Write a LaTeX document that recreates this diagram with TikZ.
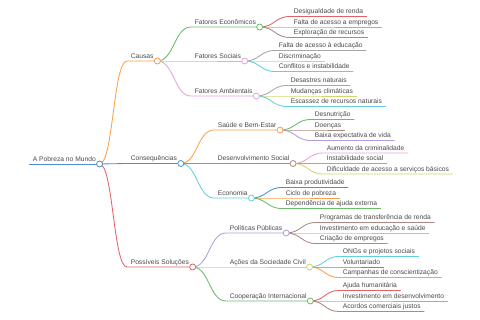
\documentclass[tikz,border=0pt]{standalone}
\usepackage{fontspec}
\setmainfont{Liberation Sans}
\usetikzlibrary{calc}
\definecolor{txt}{HTML}{4A4A4A}
\definecolor{cBlue}{HTML}{4A90CC}
\definecolor{cOrange}{HTML}{F9A04A}
\definecolor{cGreen}{HTML}{6ABC6A}
\definecolor{cRed}{HTML}{E06465}
\definecolor{cPurple}{HTML}{B39DDB}
\definecolor{cBrown}{HTML}{AC8A84}
\definecolor{cPink}{HTML}{EBA3D6}
\definecolor{cGray}{HTML}{A8A8A8}
\definecolor{cOlive}{HTML}{D3D46E}
\definecolor{cCyan}{HTML}{62D0DE}
\tikzset{
  lbl/.style={anchor=south west, inner xsep=3.6pt, inner ysep=1pt, text depth=1.6pt, text height=5pt,
    font=\fontsize{6.7}{7}\selectfont, text=txt},
  dot/.style={circle, draw=#1, fill=white, line width=0.8pt, minimum size=6pt, inner sep=0pt},
  lnk/.style={line width=0.85pt, draw=#1},
}
\newcommand\mmlink[3]{%
  \draw[lnk=#1] let \p1=(#2), \p2=(#3.south west) in
    (\p1) .. controls ({(\x1+\x2)/2},\y1) and ({(\x1+\x2)/2},\y2) .. (\p2) -- (#3.south east);}
\begin{document}
\begin{tikzpicture}[x=1pt,y=-1pt]
\useasboundingbox[fill=white] (0,0) rectangle (480,320);
% root and level 1
\node[lbl] (root) at (29,164) {A Pobreza no Mundo};
\node[lbl] (causas) at (127,61) {Causas};
\node[lbl] (cons) at (127,163.5) {Consequências};
\node[lbl] (sol) at (127,267) {Possíveis Soluções};
% level 2
\node[lbl] (econ) at (191,27) {Fatores Econômicos};
\node[lbl] (soc) at (191,61) {Fatores Sociais};
\node[lbl] (amb) at (191,96) {Fatores Ambientais};
\node[lbl] (saude) at (214,130) {Saúde e Bem-Estar};
\node[lbl] (desenv) at (214,163.5) {Desenvolvimento Social};
\node[lbl] (econo) at (214,198) {Economia};
\node[lbl] (polit) at (226,233) {Políticas Públicas};
\node[lbl] (acoes) at (226,267) {Ações da Sociedade Civil};
\node[lbl] (coop) at (226,301) {Cooperação Internacional};
% level 3
\node[lbl] (e1) at (290,16.5) {Desigualdade de renda};
\node[lbl] (e2) at (290,27) {Falta de acesso a empregos};
\node[lbl] (e3) at (290,37.5) {Exploração de recursos};
\node[lbl] (s1) at (275,50.5) {Falta de acesso à educação};
\node[lbl] (s2) at (275,61) {Discriminação};
\node[lbl] (s3) at (275,71.5) {Conflitos e instabilidade};
\node[lbl] (a1) at (287,85.5) {Desastres naturais};
\node[lbl] (a2) at (287,96) {Mudanças climáticas};
\node[lbl] (a3) at (287,106.5) {Escassez de recursos naturais};
\node[lbl] (h1) at (311,119.5) {Desnutrição};
\node[lbl] (h2) at (311,130) {Doenças};
\node[lbl] (h3) at (311,140.5) {Baixa expectativa de vida};
\node[lbl] (d1) at (323,153) {Aumento da criminalidade};
\node[lbl] (d2) at (323,163.5) {Instabilidade social};
\node[lbl] (d3) at (323,174) {Dificuldade de acesso a serviços básicos};
\node[lbl] (c1) at (282,187.5) {Baixa produtividade};
\node[lbl] (c2) at (282,198) {Ciclo de pobreza};
\node[lbl] (c3) at (282,208.5) {Dependência de ajuda externa};
\node[lbl] (p1) at (316,222.5) {Programas de transferência de renda};
\node[lbl] (p2) at (316,233) {Investimento em educação e saúde};
\node[lbl] (p3) at (316,243.5) {Criação de empregos};
\node[lbl] (o1) at (339,256.5) {ONGs e projetos sociais};
\node[lbl] (o2) at (339,267) {Voluntariado};
\node[lbl] (o3) at (339,277.5) {Campanhas de conscientização};
\node[lbl] (i1) at (339,290.5) {Ajuda humanitária};
\node[lbl] (i2) at (339,301) {Investimento em desenvolvimento};
\node[lbl] (i3) at (339,311.5) {Acordos comerciais justos};
% circle positions
\foreach \n in {root,causas,cons,sol,econ,soc,amb,saude,desenv,econo,polit,acoes,coop}
  \coordinate (\n C) at (\n.south east);
% connectors
\draw[lnk=cBlue] (root.south west) -- (root.south east);
\mmlink{cOrange}{rootC}{causas}
\mmlink{cBlue}{rootC}{cons}
\mmlink{cRed}{rootC}{sol}
\mmlink{cGreen}{causasC}{econ}
\mmlink{cPink}{causasC}{soc}
\mmlink{cPink}{causasC}{amb}
\mmlink{cOrange}{consC}{saude}
\mmlink{cBrown}{consC}{desenv}
\mmlink{cCyan}{consC}{econo}
\mmlink{cPurple}{solC}{polit}
\mmlink{cOlive}{solC}{acoes}
\mmlink{cGreen}{solC}{coop}
\mmlink{cRed}{econC}{e1}
\mmlink{cPurple}{econC}{e2}
\mmlink{cBrown}{econC}{e3}
\mmlink{cGray}{socC}{s1}
\mmlink{cOlive}{socC}{s2}
\mmlink{cCyan}{socC}{s3}
\mmlink{cGray}{ambC}{a1}
\mmlink{cOlive}{ambC}{a2}
\mmlink{cCyan}{ambC}{a3}
\mmlink{cGreen}{saudeC}{h1}
\mmlink{cBrown}{saudeC}{h2}
\mmlink{cPurple}{saudeC}{h3}
\mmlink{cPink}{desenvC}{d1}
\mmlink{cGray}{desenvC}{d2}
\mmlink{cOlive}{desenvC}{d3}
\mmlink{cBlue}{econoC}{c1}
\mmlink{cOrange}{econoC}{c2}
\mmlink{cGreen}{econoC}{c3}
\mmlink{cBrown}{politC}{p1}
\mmlink{cPink}{politC}{p2}
\mmlink{cBrown}{politC}{p3}
\mmlink{cCyan}{acoesC}{o1}
\mmlink{cBlue}{acoesC}{o2}
\mmlink{cOrange}{acoesC}{o3}
\mmlink{cRed}{coopC}{i1}
\mmlink{cPurple}{coopC}{i2}
\mmlink{cBrown}{coopC}{i3}
% circles
\node[dot=cBlue] at (rootC) {};
\node[dot=cOrange] at (causasC) {};
\node[dot=cBlue] at (consC) {};
\node[dot=cRed] at (solC) {};
\node[dot=cGreen] at (econC) {};
\node[dot=cPink] at (socC) {};
\node[dot=cPink] at (ambC) {};
\node[dot=cOrange] at (saudeC) {};
\node[dot=cBrown] at (desenvC) {};
\node[dot=cCyan] at (econoC) {};
\node[dot=cPurple] at (politC) {};
\node[dot=cOlive] at (acoesC) {};
\node[dot=cGreen] at (coopC) {};
\end{tikzpicture}
\end{document}
